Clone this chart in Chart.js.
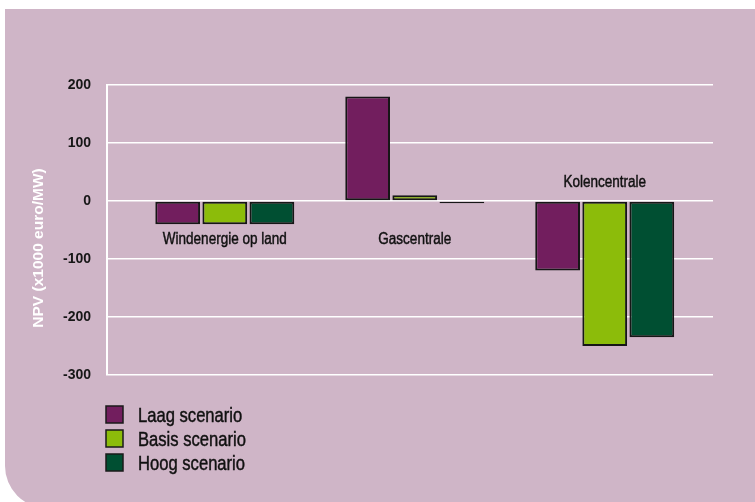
<!DOCTYPE html>
<html>
<head>
<meta charset="utf-8">
<script src="https://cdn.jsdelivr.net/npm/chart.js@4/dist/chart.umd.min.js"></script>
<style>
  html, body { margin: 0; padding: 0; background: #ffffff; }
  #wrap { width: 755px; height: 502px; }
</style>
</head>
<body>
<div id="wrap"><canvas id="c" width="755" height="502"></canvas></div>
<script>
// ---- data ----
const categories = ["Windenergie op land", "Gascentrale", "Kolencentrale"];
const seriesNames = ["Laag scenario", "Basis scenario", "Hoog scenario"];
const laag  = [-40, 180, -120];
const basis = [-40, 10, -250];
const hoog  = [-40, -4, -235];
const yTicks = [200, 100, 0, -100, -200, -300];
const yTitle = "NPV (x1000 euro/MW)";

const colors = ["#721e5e", "#8cbc0a", "#004f32"];
const seriesValues = [laag, basis, hoog];
// y-value (in axis units) where each category name is written
const labelAt = [-67, -67, 31];

const sans = "'Liberation Sans', Arial, sans-serif";

// draws text horizontally condensed (the reference uses a condensed face)
function narrowText(ctx, text, x, y, size, sx, align) {
  ctx.save();
  ctx.font = size + "px " + sans;
  ctx.textBaseline = 'middle';
  ctx.textAlign = align;
  ctx.translate(x, y);
  ctx.scale(sx, 1);
  ctx.fillText(text, 0, 0);
  ctx.lineWidth = 0.45;
  ctx.strokeStyle = ctx.fillStyle;
  ctx.strokeText(text, 0, 0);
  ctx.restore();
}

const panelPlugin = {
  id: 'panel',
  beforeDraw(chart) {
    const ctx = chart.ctx;
    const x0 = 5, y0 = 9, x1 = 755, y1 = 508, r = 42;
    ctx.save();
    ctx.fillStyle = '#cfb5c7';
    ctx.beginPath();
    ctx.moveTo(x0, y0);
    ctx.lineTo(x1, y0);
    ctx.lineTo(x1, y1);
    ctx.lineTo(x0 + r, y1);
    ctx.arcTo(x0, y1, x0, y1 - r, r);
    ctx.closePath();
    ctx.fill();
    // y-axis title
    ctx.save();
    ctx.translate(39, 248);
    ctx.rotate(-Math.PI / 2);
    ctx.fillStyle = '#ffffff';
    ctx.font = "bold 15.5px " + sans;
    ctx.textAlign = 'center';
    ctx.textBaseline = 'middle';
    ctx.fillText(yTitle, 0, 0);
    ctx.restore();
    ctx.restore();
  }
};

const labelsPlugin = {
  id: 'catLabels',
  afterDatasetsDraw(chart) {
    const ctx = chart.ctx;
    const xs = chart.scales.x, ys = chart.scales.y;
    ctx.save();
    ctx.fillStyle = '#111111';
    categories.forEach((c, i) => {
      narrowText(ctx, c, xs.getPixelForValue(i), ys.getPixelForValue(labelAt[i]), 16, 0.845, 'center');
    });
    // legend
    const lx = 106, ly = 406, step = 24, box = 17;
    chart.data.datasets.forEach((ds, i) => {
      ctx.fillStyle = ds.backgroundColor;
      ctx.fillRect(lx, ly + i * step, box, box);
      ctx.strokeStyle = '#1a1a1a';
      ctx.lineWidth = 1.5;
      ctx.strokeRect(lx, ly + i * step, box, box);
      ctx.fillStyle = '#111111';
      narrowText(ctx, ds.label, 138, ly + i * step + box / 2 + 2, 20, 0.83, 'left');
    });
    ctx.restore();
  }
};

const datasets = seriesNames.map((name, s) => ({
  label: name,
  data: categories.map((c, i) => ({ x: i, y: seriesValues[s][i] })),
  backgroundColor: colors[s],
  borderColor: '#161616',
  borderWidth: 2,
  borderSkipped: false,
  categoryPercentage: 0.744,
  barPercentage: 0.95
}));

new Chart(document.getElementById('c'), {
  type: 'bar',
  data: { datasets },
  plugins: [panelPlugin, labelsPlugin],
  options: {
    responsive: false,
    animation: false,
    devicePixelRatio: 1,
    layout: { padding: { left: 47, right: 42, top: 85, bottom: 127 } },
    plugins: { legend: { display: false }, tooltip: { enabled: false } },
    scales: {
      x: {
        type: 'linear',
        offset: false,
        min: -0.62,
        max: 2.57,
        display: false,
        afterBuildTicks: (axis) => { axis.ticks = categories.map((c, i) => ({ value: i })); }
      },
      y: {
        min: Math.min(...yTicks),
        max: Math.max(...yTicks),
        afterBuildTicks: (axis) => { axis.ticks = yTicks.map(v => ({ value: v })); },
        grid: { color: '#ffffff', lineWidth: 1.5, drawTicks: false },
        border: { display: true, color: '#ffffff', width: 2 },
        ticks: {
          padding: 16,
          color: '#161616',
          font: { family: sans, size: 14, weight: 'bold' }
        },
        title: { display: false }
      }
    }
  }
});
</script>
</body>
</html>
